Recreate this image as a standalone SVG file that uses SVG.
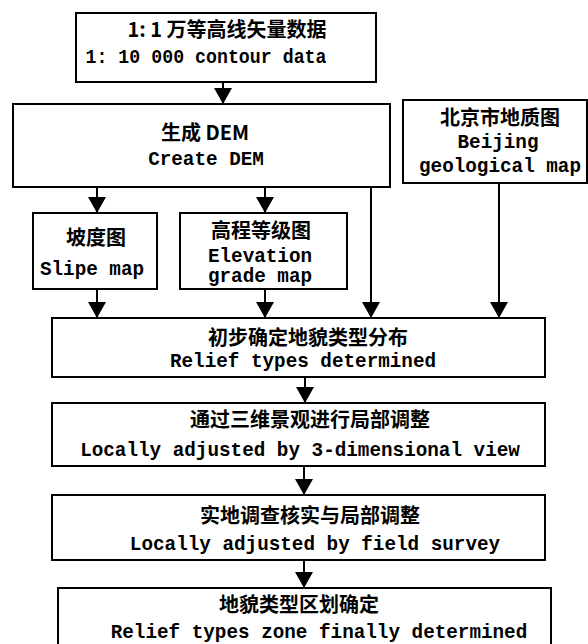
<svg xmlns="http://www.w3.org/2000/svg" width="588" height="644" viewBox="0 0 588 644">
<style>
.box{fill:#fff;stroke:#000;stroke-width:2}
.zh{font-family:"Noto Sans CJK SC","Noto Sans",sans-serif;font-weight:bold;font-size:20px;fill:#000;text-anchor:middle}
.en{font-family:"Liberation Mono","DejaVu Sans Mono",monospace;font-weight:bold;font-size:19.3px;fill:#000;text-anchor:middle}
.ln{stroke:#000;stroke-width:2;fill:none}
</style>
<defs>
<marker id="ah" markerUnits="userSpaceOnUse" markerWidth="20" markerHeight="20" refX="16" refY="10" orient="auto">
<path d="M0,1 L16,10 L0,19 Z" fill="#000"/>
</marker>
</defs>
<rect width="588" height="644" fill="#fff"/>
<g id="connectors">
<line class="ln" x1="223" y1="82" x2="223" y2="104" marker-end="url(#ah)"/>
<line class="ln" x1="97" y1="187" x2="97" y2="213" marker-end="url(#ah)"/>
<line class="ln" x1="265" y1="187" x2="265" y2="213" marker-end="url(#ah)"/>
<line class="ln" x1="371" y1="187" x2="371" y2="318" marker-end="url(#ah)"/>
<line class="ln" x1="499" y1="183" x2="499" y2="318" marker-end="url(#ah)"/>
<line class="ln" x1="97" y1="289" x2="97" y2="318" marker-end="url(#ah)"/>
<line class="ln" x1="265" y1="289" x2="265" y2="318" marker-end="url(#ah)"/>
<line class="ln" x1="305" y1="377" x2="305" y2="403" marker-end="url(#ah)"/>
<line class="ln" x1="304" y1="466" x2="304" y2="495" marker-end="url(#ah)"/>
<line class="ln" x1="304" y1="560" x2="304" y2="588" marker-end="url(#ah)"/>
</g>
<g id="contour">
<rect class="box" x="76" y="13" width="300" height="69"/>
<text class="zh" x="227" y="37">1: 1 万等高线矢量数据</text>
<text class="en" x="206" y="63" textLength="241" lengthAdjust="spacingAndGlyphs">1: 10 000 contour data</text>
</g>
<g id="dem">
<rect class="box" x="13" y="104" width="377" height="83"/>
<text class="zh" x="205" y="140">生成 DEM</text>
<text class="en" x="206" y="165">Create DEM</text>
</g>
<g id="geomap">
<rect class="box" x="403" y="100" width="184" height="83"/>
<text class="zh" x="500" y="125">北京市地质图</text>
<text class="en" x="498" y="148">Beijing</text>
<text class="en" x="500" y="172">geological map</text>
</g>
<g id="slope">
<rect class="box" x="33" y="213" width="124" height="76"/>
<text class="zh" x="96" y="245">坡度图</text>
<text class="en" x="92" y="275">Slipe map</text>
</g>
<g id="elev">
<rect class="box" x="180" y="213" width="167" height="76"/>
<text class="zh" x="261" y="238">高程等级图</text>
<text class="en" x="260" y="262">Elevation</text>
<text class="en" x="260" y="282">grade map</text>
</g>
<g id="relief">
<rect class="box" x="52" y="318" width="493" height="59"/>
<text class="zh" x="308" y="345">初步确定地貌类型分布</text>
<text class="en" x="303" y="367">Relief types determined</text>
</g>
<g id="view3d">
<rect class="box" x="52" y="403" width="493" height="63"/>
<text class="zh" x="310" y="427">通过三维景观进行局部调整</text>
<text class="en" x="300" y="456">Locally adjusted by 3-dimensional view</text>
</g>
<g id="field">
<rect class="box" x="52" y="495" width="493" height="65"/>
<text class="zh" x="310" y="523">实地调查核实与局部调整</text>
<text class="en" x="315" y="550">Locally adjusted by field survey</text>
</g>
<g id="final">
<rect class="box" x="58" y="588" width="493" height="70"/>
<text class="zh" x="299" y="612">地貌类型区划确定</text>
<text class="en" x="319" y="638">Relief types zone finally determined</text>
</g>
</svg>
